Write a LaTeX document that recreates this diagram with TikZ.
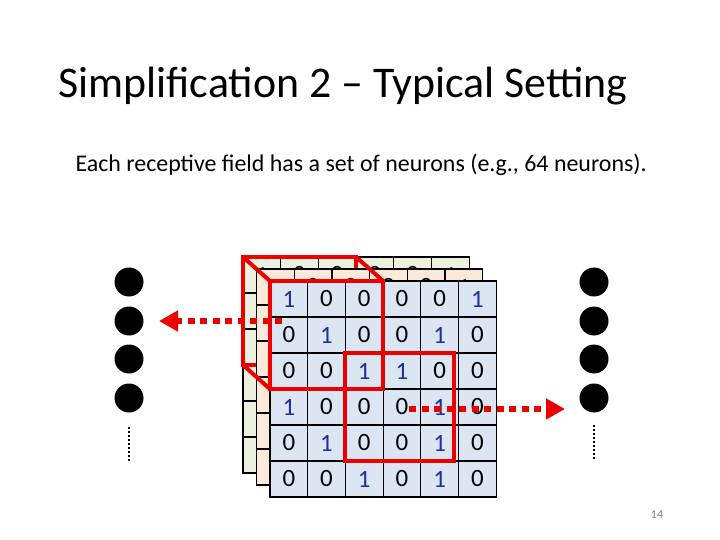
\documentclass[tikz,border=0pt]{standalone}
\usepackage{fontspec}
\setmainfont{Carlito}
\usetikzlibrary{arrows.meta}

\definecolor{cellblue}{RGB}{220,230,242}
\definecolor{cellpeach}{RGB}{253,233,217}
\definecolor{cellgreen}{RGB}{235,241,222}
\definecolor{onecolor}{RGB}{31,45,160}
\definecolor{boxred}{RGB}{236,0,0}
\colorlet{digit0}{black}
\colorlet{digit1}{onecolor}

% one layer of 6x6 cells: name, left, top, fill
\newcommand{\drawlayer}[4]{%
  \foreach \digits [count=\row from 0] in {{1,0,0,0,0,1},{0,1,0,0,1,0},{0,0,1,1,0,0},{1,0,0,0,1,0},{0,1,0,0,1,0},{0,0,1,0,1,0}}{
    \foreach \v [count=\col from 0] in \digits {
      \node[cell, fill=#4, text=digit\v] (#1-\row-\col) at ({#2+(\col+0.5)*37.7},{#3+(\row+0.5)*36}) {\v};
    }
  }
}

\begin{document}
\begin{tikzpicture}[x=1bp, y=-1bp,
    cell/.style={draw=black, line width=1.2bp, minimum width=37.7bp, minimum height=36bp,
      inner sep=0pt, outer sep=0pt, font=\fontsize{25}{29}\selectfont},
    redbox/.style={draw=boxred, line width=4bp},
    redarrow/.style={boxred, line width=6bp, dash pattern=on 7bp off 5.5bp,
      -{Triangle[length=19bp, width=20bp]}},
    neuron/.style={circle, fill=black, minimum size=29bp, inner sep=0pt},
    dotline/.style={line width=2bp, dash pattern=on 2bp off 2bp}]
  \useasboundingbox (0,0) rectangle (720,540);
  \fill[white] (0,0) rectangle (720,540);

  % Title and text
  \node[anchor=base west, font=\fontsize{44}{52}\selectfont] (title) at (55,98) {Simplification 2 – Typical Setting};
  \node[anchor=base west, font=\fontsize{24}{28}\selectfont] (text) at (72,172) {Each receptive field has a set of neurons (e.g., 64 neurons).};

  % Back layer and back face of the box
  \drawlayer{g}{243}{257}{cellgreen}
  \draw[redbox] (g-0-0.north west) rectangle (g-2-2.south east);

  % Middle and front layers
  \drawlayer{p}{256.5}{269}{cellpeach}
  \drawlayer{f}{270}{281}{cellblue}

  % Receptive fields
  \draw[redbox] (g-0-0.north west) -- (f-0-0.north west);
  \draw[redbox] (g-0-2.north east) -- (f-0-2.north east);
  \draw[redbox] (g-2-0.south west) -- (f-2-0.south west);
  \draw[redbox] (f-0-0.north west) rectangle (f-2-2.south east);
  \draw[redbox] (f-2-2.north west) rectangle ([xshift=-5bp]f-4-4.south east);

  % Neurons
  \foreach \y [count=\i] in {282,321,359,398} {
    \node[neuron] (l\i) at (129,\y) {};
    \node[neuron] (r\i) at (594,\y) {};
  }
  \draw[dotline] ([yshift=-14bp]l4.south) -- ++(0,36);
  \draw[dotline] ([yshift=-12bp]r4.south) -- ++(0,36);

  % Arrows
  \coordinate (lstart) at (282,321);
  \coordinate (lend) at (159,321);
  \coordinate (rstart) at (409,409);
  \coordinate (rend) at (565,409);
  \draw[redarrow] (lstart) -- (lend);
  \draw[redarrow] (rstart) -- (rend);

  % Page number
  \node[text=gray, font=\fontsize{12}{14}\selectfont] (page) at (657,515) {14};
\end{tikzpicture}
\end{document}
